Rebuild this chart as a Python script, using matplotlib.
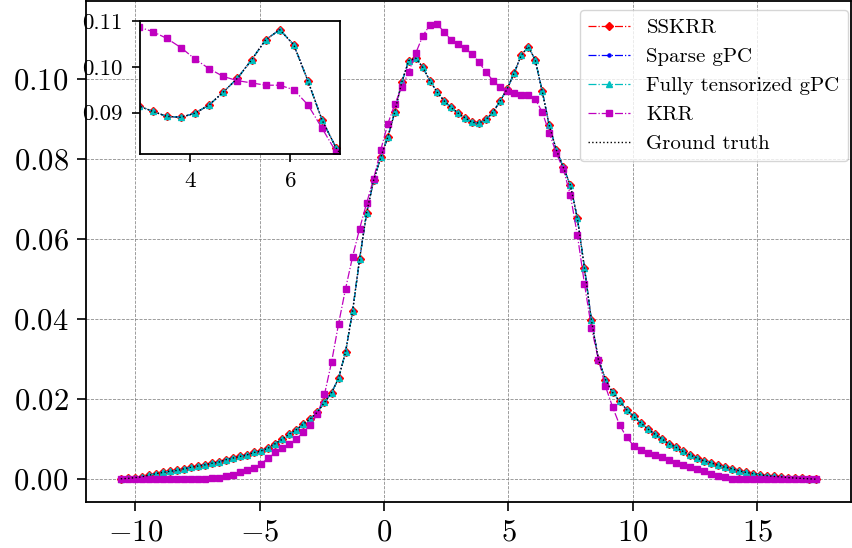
import numpy as np
import matplotlib
matplotlib.use('Agg')
import matplotlib.pyplot as plt

plt.rcParams['font.family'] = 'cmr10'
plt.rcParams['mathtext.fontset'] = 'cm'
plt.rcParams['axes.formatter.use_mathtext'] = True

# evaluation grid (100 evenly spaced points)
x = np.linspace(-10.58, 17.37, 100)

truth = [
    0.0001, 0.0002, 0.0004, 0.0006, 0.0010, 0.0014, 0.0017, 0.0020, 0.0022, 0.0026,
    0.0030, 0.0033, 0.0036, 0.0040, 0.0043, 0.0049, 0.0053, 0.0057, 0.0061, 0.0067,
    0.0071, 0.0078, 0.0089, 0.0100, 0.0113, 0.0124, 0.0138, 0.0151, 0.0168, 0.0192,
    0.0216, 0.0252, 0.0318, 0.0420, 0.0550, 0.0666, 0.0747, 0.0804, 0.0854, 0.0917,
    0.0992, 0.1046, 0.1052, 0.1029, 0.0996, 0.0968, 0.0946, 0.0929, 0.0915, 0.0903,
    0.0892, 0.0890, 0.0899, 0.0917, 0.0945, 0.0975, 0.1015, 0.1059, 0.1081, 0.1048,
    0.0969, 0.0884, 0.0823, 0.0779, 0.0735, 0.0652, 0.0529, 0.0397, 0.0299, 0.0249,
    0.0217, 0.0195, 0.0174, 0.0157, 0.0141, 0.0126, 0.0113, 0.0101, 0.0089, 0.0080,
    0.0070, 0.0061, 0.0053, 0.0046, 0.0041, 0.0035, 0.0030, 0.0026, 0.0021, 0.0017,
    0.0014, 0.0011, 0.0009, 0.0007, 0.0006, 0.0004, 0.0003, 0.0002, 0.0001, 0.0000,
]

krr = [
    0.0000, 0.0000, 0.0000, 0.0000, 0.0000, 0.0000, 0.0000, 0.0000, 0.0000, 0.0000,
    0.0000, 0.0000, 0.0001, 0.0002, 0.0004, 0.0007, 0.0010, 0.0017, 0.0022, 0.0028,
    0.0039, 0.0053, 0.0067, 0.0078, 0.0088, 0.0101, 0.0117, 0.0136, 0.0163, 0.0212,
    0.0292, 0.0388, 0.0476, 0.0556, 0.0626, 0.0690, 0.0751, 0.0822, 0.0887, 0.0937,
    0.0979, 0.1018, 0.1065, 0.1108, 0.1135, 0.1138, 0.1118, 0.1098, 0.1087, 0.1077,
    0.1062, 0.1042, 0.1017, 0.0996, 0.0979, 0.0970, 0.0965, 0.0960, 0.0960, 0.0950,
    0.0917, 0.0866, 0.0814, 0.0775, 0.0710, 0.0610, 0.0489, 0.0378, 0.0299, 0.0232,
    0.0181, 0.0136, 0.0105, 0.0084, 0.0072, 0.0066, 0.0060, 0.0056, 0.0047, 0.0041,
    0.0035, 0.0031, 0.0026, 0.0020, 0.0014, 0.0009, 0.0005, 0.0001, 0.0000, 0.0000,
    0.0000, 0.0000, 0.0000, 0.0000, 0.0000, 0.0000, 0.0000, 0.0000, 0.0000, 0.0000,
]

# the three surrogates sit on top of the ground truth
sskrr = truth
sparse_gpc = truth
full_gpc = truth


def draw(ax):
    ax.plot(x, sskrr, 'r-.', marker='D', markersize=4, linewidth=0.9, label='SSKRR')
    ax.plot(x, sparse_gpc, 'b-.', marker='.', markersize=4.5, linewidth=0.9, label='Sparse gPC')
    ax.plot(x, full_gpc, 'c-.', marker='^', markersize=5, linewidth=0.9, label='Fully tensorized gPC')
    ax.plot(x, krr, 'm-.', marker='s', markersize=4.5, linewidth=0.9, label='KRR')
    ax.plot(x, truth, 'k:', linewidth=1.0, label='Ground truth')


fig = plt.figure(figsize=(8.52, 5.48), dpi=100)
ax = fig.add_axes([86 / 852, 1 - 502 / 548, 765 / 852, 501 / 548])
draw(ax)
ax.grid(True, linestyle='--', color='gray', linewidth=0.6, alpha=0.9)
ax.tick_params(labelsize=22, length=6.5, width=1.2, pad=6)
for s in ax.spines.values():
    s.set_linewidth(1.3)
ax.legend(loc='upper right', bbox_to_anchor=(848 / 852, 1 - 10 / 548),
          bbox_transform=fig.transFigure, borderaxespad=0, fontsize=15)

# zoomed inset on the second mode
axin = fig.add_axes([140 / 852, 1 - 154 / 548, 200 / 852, 133 / 548])
draw(axin)
axin.set_xlim(3.0, 7.0)
axin.set_ylim(0.081, 0.11)
axin.set_xticks([4, 6])
axin.set_yticks([0.09, 0.10, 0.11])
axin.set_yticklabels(['0.09', '0.10', '0.11'])
axin.tick_params(labelsize=16.5, length=5.5, width=1.2, pad=7)
for s in axin.spines.values():
    s.set_linewidth(1.3)

fig.savefig('out.png', dpi=100)
